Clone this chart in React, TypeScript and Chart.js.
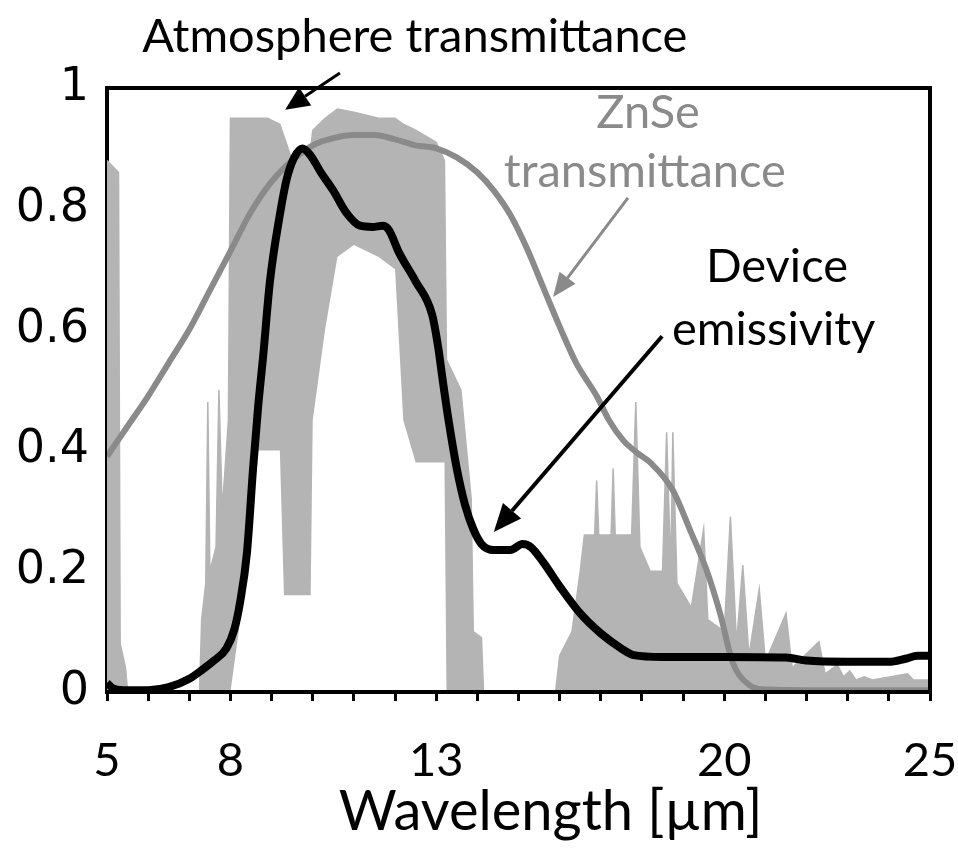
import React, { useEffect, useRef } from 'react';
import { Chart, registerables } from 'chart.js';

Chart.register(...registerables);

// ---- Data ----
const wavelengthDevice = [5.0, 5.15, 5.5, 6.0, 6.5, 7.0, 7.3, 7.6, 7.9, 8.1, 8.23, 8.4, 8.55, 8.67, 8.8, 8.96, 9.2, 9.37, 9.55, 9.75, 9.95, 10.2, 10.5, 10.8, 11.15, 11.45, 11.7, 11.85, 12.1, 12.5, 12.9, 13.05, 13.15, 13.3, 13.5, 13.7, 13.9, 14.1, 14.4, 14.8, 15.1, 15.3, 15.6, 16.0, 16.5, 17.0, 17.5, 17.8, 18.5, 20.0, 21.5, 22.0, 23.0, 24.0, 24.4, 24.7, 25.0];
const deviceEmissivity = [0.015, 0.006, 0.003, 0.003, 0.008, 0.022, 0.036, 0.052, 0.072, 0.105, 0.147, 0.23, 0.37, 0.47, 0.56, 0.68, 0.79, 0.85, 0.885, 0.9, 0.888, 0.86, 0.83, 0.795, 0.772, 0.77, 0.772, 0.765, 0.727, 0.68, 0.625, 0.57, 0.52, 0.45, 0.37, 0.31, 0.27, 0.245, 0.235, 0.235, 0.245, 0.24, 0.215, 0.175, 0.13, 0.097, 0.072, 0.061, 0.058, 0.058, 0.057, 0.052, 0.05, 0.05, 0.055, 0.06, 0.06];

const wavelengthZnSe = [5.0, 5.5, 6.0, 6.5, 7.0, 7.5, 8.0, 8.5, 9.0, 9.5, 10.0, 10.5, 11.0, 11.5, 12.0, 12.5, 13.0, 13.5, 14.0, 14.4, 14.8, 15.2, 15.6, 16.0, 16.4, 16.9, 17.2, 17.54, 17.9, 18.2, 18.75, 19.17, 19.58, 19.9, 20.2, 20.6, 21.0, 22.0, 25.0];
const znseTransmittance = [0.39, 0.44, 0.49, 0.545, 0.6, 0.665, 0.73, 0.795, 0.845, 0.88, 0.905, 0.917, 0.922, 0.922, 0.915, 0.905, 0.9, 0.885, 0.86, 0.83, 0.79, 0.735, 0.67, 0.605, 0.545, 0.49, 0.45, 0.417, 0.395, 0.38, 0.334, 0.268, 0.2, 0.13, 0.05, 0.012, 0.004, 0.003, 0.003];

const wavelengthAtm = [5.0, 5.28, 5.32, 5.45, 5.5, 7.25, 7.3, 7.4, 7.45, 7.5, 7.65, 7.72, 7.8, 7.95, 8.0, 8.2, 8.4, 8.55, 8.9, 9.2, 9.3, 9.5, 9.95, 10.0, 10.3, 10.6, 11.0, 11.6, 12.0, 12.2, 12.5, 13.0, 13.2, 13.25, 13.6, 13.85, 13.9, 14.1, 14.15, 15.9, 16.0, 16.3, 16.5, 16.6, 16.85, 16.9, 16.95, 17.25, 17.3, 17.35, 17.75, 17.85, 17.95, 18.2, 18.5, 18.6, 18.7, 18.75, 18.85, 19.2, 19.5, 19.6, 20.0, 20.15, 20.3, 20.45, 20.6, 20.85, 21.0, 21.5, 21.65, 22.3, 22.45, 22.75, 22.9, 23.05, 23.2, 23.4, 23.6, 24.45, 24.6, 25.0];
const atmosphereHigh = [0.88, 0.86, 0.08, 0.04, 0, 0, 0.12, 0.18, 0.48, 0.2, 0.24, 0.5, 0.3, 0.45, 0.95, 0.95, 0.95, 0.95, 0.95, 0.94, 0.92, 0.88, 0.9, 0.93, 0.95, 0.965, 0.96, 0.95, 0.95, 0.94, 0.93, 0.91, 0.88, 0.55, 0.5, 0.32, 0.1, 0.09, 0, 0, 0.06, 0.1, 0.2, 0.26, 0.26, 0.35, 0.26, 0.26, 0.37, 0.26, 0.26, 0.48, 0.24, 0.2, 0.2, 0.43, 0.2, 0.43, 0.18, 0.14, 0.27, 0.12, 0.1, 0.29, 0.08, 0.21, 0.06, 0.17, 0.05, 0.13, 0.04, 0.083, 0.03, 0.045, 0.025, 0.035, 0.02, 0.025, 0.02, 0.03, 0.02, 0.02];
const atmosphereLow = [0, 0, 0, 0, 0, 0, 0, 0, 0, 0, 0, 0, 0, 0, 0, 0.1, 0.25, 0.4, 0.4, 0.4, 0.16, 0.16, 0.16, 0.45, 0.6, 0.72, 0.74, 0.72, 0.7, 0.45, 0.38, 0.38, 0.38, 0, 0, 0, 0, 0, 0, 0, 0, 0, 0, 0, 0, 0, 0, 0, 0, 0, 0, 0, 0, 0, 0, 0, 0, 0, 0, 0, 0, 0, 0, 0, 0, 0, 0, 0, 0, 0, 0, 0, 0, 0, 0, 0, 0, 0, 0, 0, 0, 0];

const xTickLabels = [5, 8, 13, 20, 25];
const yTickValues = [0, 0.2, 0.4, 0.6, 0.8, 1];
const yTickLabels = ['0', '0.2', '0.4', '0.6', '0.8', '1'];

const pairs = (xs: number[], ys: number[]) => xs.map((x, i) => ({ x, y: ys[i] }));

const BLACK = '#000000';
const ZNSE_GRAY = '#8a8a8a';
const ATM_GRAY = '#b4b4b4';
const TEXT_FONT = 'Lato, "Open Sans", sans-serif';

function arrow(ctx: CanvasRenderingContext2D, x1: number, y1: number, x2: number, y2: number, color: string, width: number, headLen: number, headHalf: number) {
  const ang = Math.atan2(y2 - y1, x2 - x1);
  const bx = x2 - Math.cos(ang) * headLen;
  const by = y2 - Math.sin(ang) * headLen;
  ctx.save();
  ctx.strokeStyle = color;
  ctx.fillStyle = color;
  ctx.lineWidth = width;
  ctx.beginPath();
  ctx.moveTo(x1, y1);
  ctx.lineTo(bx, by);
  ctx.stroke();
  ctx.beginPath();
  ctx.moveTo(x2, y2);
  ctx.lineTo(bx + Math.sin(ang) * headHalf, by - Math.cos(ang) * headHalf);
  ctx.lineTo(bx - Math.sin(ang) * headHalf, by + Math.cos(ang) * headHalf);
  ctx.closePath();
  ctx.fill();
  ctx.restore();
}

const annotationPlugin = {
  id: 'figureAnnotations',
  afterDatasetsDraw(chart: any) {
    const { ctx, chartArea: a, scales } = chart;
    const px = (v: number) => scales.x.getPixelForValue(v);
    const py = (v: number) => scales.y.getPixelForValue(v);
    ctx.save();
    // frame (top, right, bottom)
    ctx.strokeStyle = BLACK;
    ctx.lineWidth = 4;
    ctx.beginPath();
    ctx.moveTo(a.left, a.top);
    ctx.lineTo(a.right, a.top);
    ctx.lineTo(a.right, a.bottom);
    ctx.lineTo(a.left, a.bottom);
    ctx.stroke();

    ctx.textAlign = 'center';
    ctx.textBaseline = 'middle';
    ctx.font = `47px ${TEXT_FONT}`;
    ctx.fillStyle = BLACK;
    ctx.fillText('Atmosphere transmittance', px(12.48), py(1.084));
    arrow(ctx, px(10.66), py(1.025), px(9.33), py(0.964), BLACK, 3, 24, 11);

    ctx.fillStyle = ZNSE_GRAY;
    ctx.fillText('ZnSe', px(18.15), py(0.959));
    ctx.fillText('transmittance', px(18.07), py(0.861));
    arrow(ctx, px(17.66), py(0.818), px(15.84), py(0.654), ZNSE_GRAY, 3, 24, 10);

    ctx.fillStyle = BLACK;
    ctx.fillText('Device', px(21.28), py(0.704));
    ctx.fillText('emissivity', px(21.2), py(0.6));
    arrow(ctx, px(18.49), py(0.589), px(14.4), py(0.265), BLACK, 4, 28, 12);

    // x-axis title
    ctx.font = `56px ${TEXT_FONT}`;
    ctx.fillText('Wavelength [µm]', px(15.78), 812);
    ctx.restore();
  },
};

export default function App() {
  const canvasRef = useRef<HTMLCanvasElement | null>(null);

  useEffect(() => {
    if (!canvasRef.current) return;
    const chart = new Chart(canvasRef.current, {
      type: 'line',
      data: {
        datasets: [
          {
            label: 'Device emissivity',
            data: pairs(wavelengthDevice, deviceEmissivity),
            borderColor: BLACK,
            borderWidth: 8,
            pointRadius: 0,
            cubicInterpolationMode: 'monotone',
            fill: false,
          },
          {
            label: 'ZnSe transmittance',
            data: pairs(wavelengthZnSe, znseTransmittance),
            borderColor: ZNSE_GRAY,
            borderWidth: 6,
            pointRadius: 0,
            cubicInterpolationMode: 'monotone',
            fill: false,
          },
          {
            label: 'Atmosphere transmittance',
            data: pairs(wavelengthAtm, atmosphereHigh),
            borderColor: ATM_GRAY,
            backgroundColor: ATM_GRAY,
            borderWidth: 1.5,
            pointRadius: 0,
            tension: 0,
            fill: '+1',
          },
          {
            label: 'Atmosphere lower envelope',
            data: pairs(wavelengthAtm, atmosphereLow),
            borderColor: ATM_GRAY,
            borderWidth: 0,
            pointRadius: 0,
            tension: 0,
            fill: false,
          },
        ],
      },
      options: {
        animation: false,
        responsive: false,
        devicePixelRatio: 1,
        layout: { padding: { left: 0, right: 28, top: 88, bottom: 0 } },
        plugins: { legend: { display: false }, tooltip: { enabled: false } },
        scales: {
          x: {
            type: 'linear',
            min: 5,
            max: 25,
            afterFit: (s: any) => { s.height = 166; s.paddingLeft = 0; s.paddingRight = 0; },
            border: { display: true, color: BLACK, width: 4 },
            grid: { drawOnChartArea: false, drawTicks: true, tickLength: 9, tickWidth: 3, tickColor: BLACK },
            ticks: {
              stepSize: 1,
              autoSkip: false,
              maxRotation: 0,
              padding: 32,
              color: BLACK,
              font: { family: TEXT_FONT, size: 47 },
              callback: (v: any) => (xTickLabels.includes(Number(v)) ? String(v) : ''),
            },
          },
          y: {
            type: 'linear',
            min: 0,
            max: 1,
            afterFit: (s: any) => { s.width = 107; s.paddingTop = 0; s.paddingBottom = 0; },
            border: { display: true, color: BLACK, width: 4 },
            grid: { drawOnChartArea: false, drawTicks: false },
            afterBuildTicks: (s: any) => { s.ticks = yTickValues.map((v) => ({ value: v })); },
            ticks: {
              padding: 18,
              color: BLACK,
              font: { family: '"DejaVu Sans", sans-serif', size: 46 },
              callback: (v: any) => {
                const i = yTickValues.findIndex((t) => Math.abs(t - Number(v)) < 1e-6);
                return i >= 0 ? yTickLabels[i] : '';
              },
            },
          },
        },
      },
      plugins: [annotationPlugin],
    } as any);
    const fonts = (document as any).fonts;
    if (fonts && fonts.load) {
      Promise.all([fonts.load(`47px Lato`), fonts.load('46px "DejaVu Sans"')]).then(() => chart.update()).catch(() => {});
    }
    return () => chart.destroy();
  }, []);

  return (
    <div style={{ position: 'absolute', left: 0, top: 0, width: 958, height: 858, background: '#ffffff' }}>
      <canvas ref={canvasRef} width={958} height={858} />
    </div>
  );
}
